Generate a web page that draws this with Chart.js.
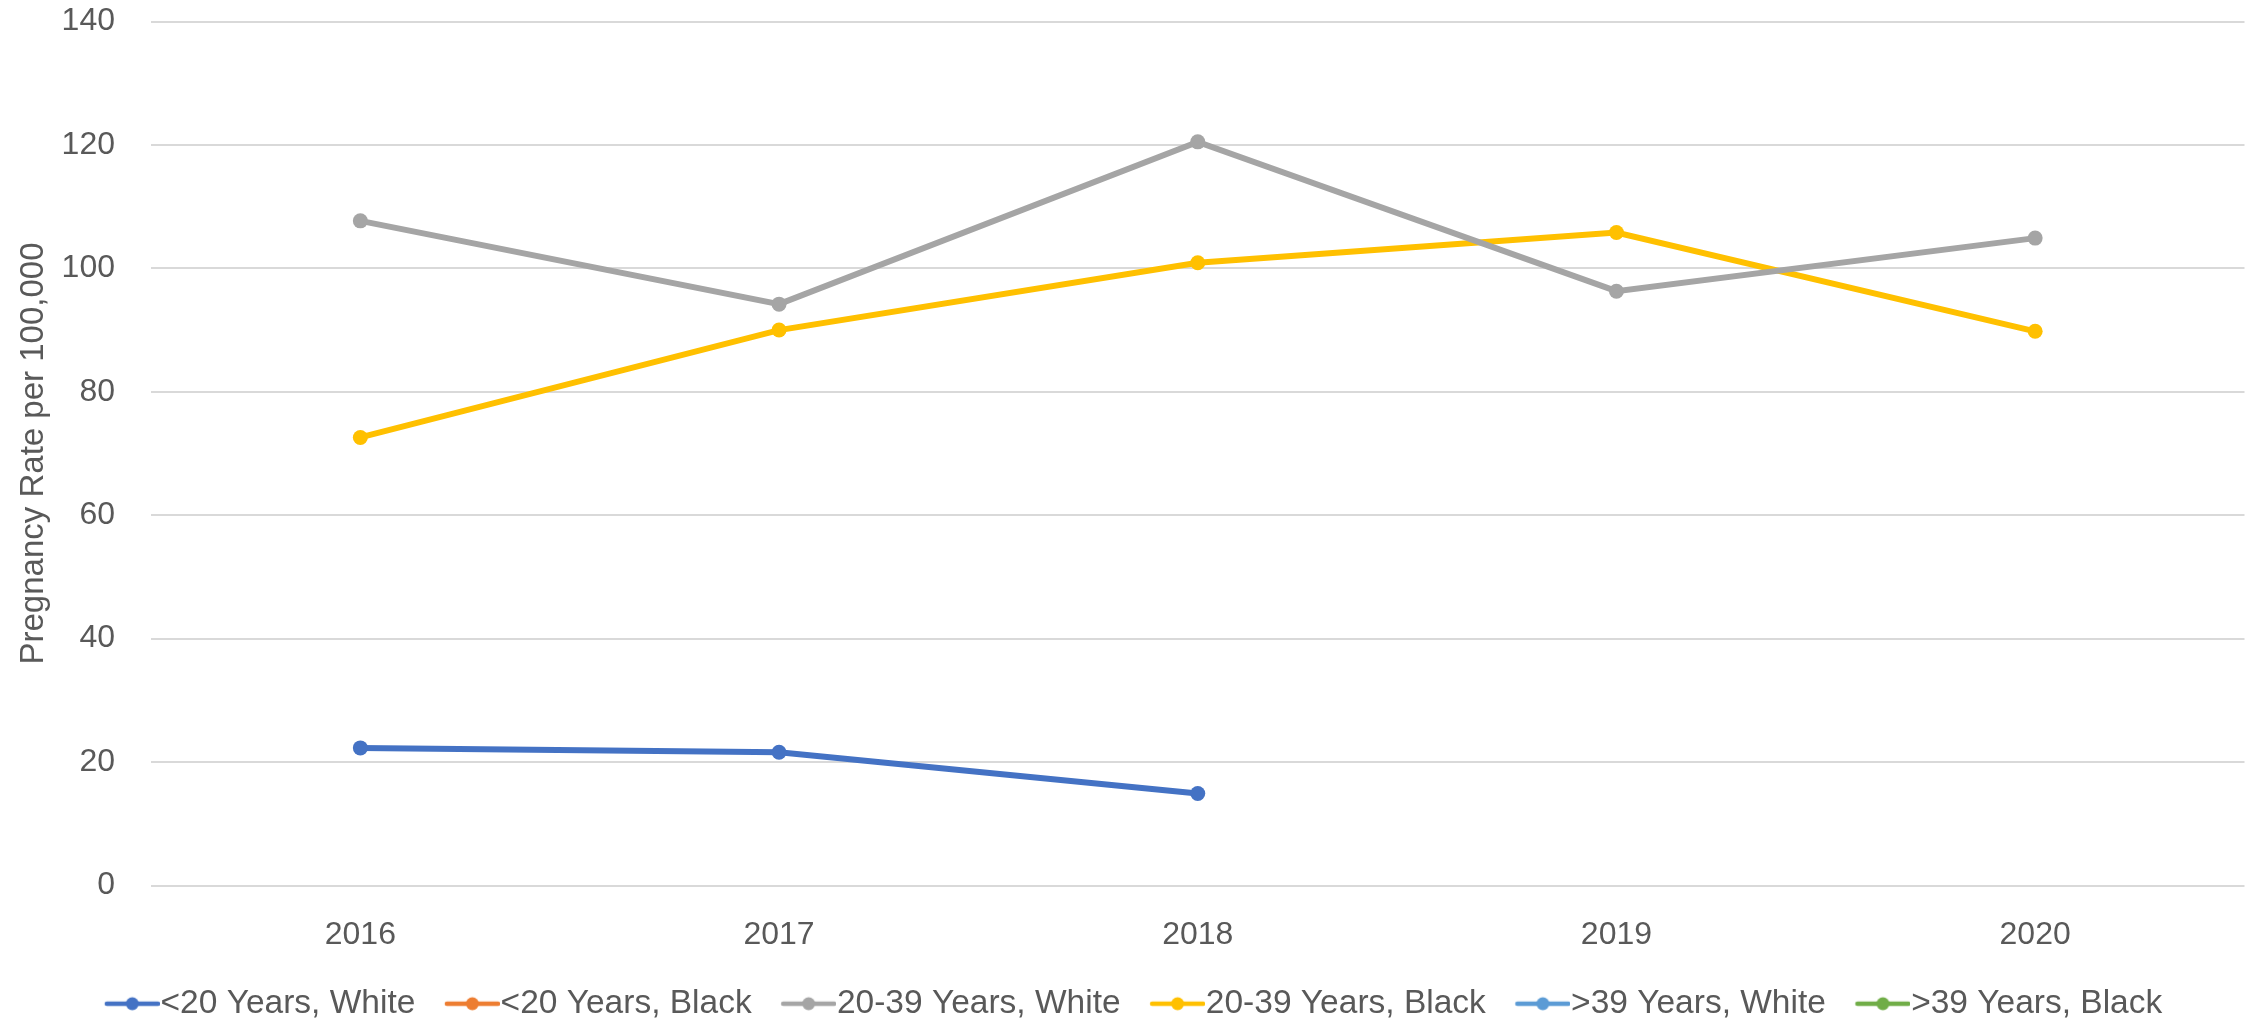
<!DOCTYPE html>
<html>
<head>
<meta charset="utf-8">
<script src="https://cdn.jsdelivr.net/npm/chart.js@4.4.0/dist/chart.umd.min.js"></script>
<style>
  html, body { margin: 0; padding: 0; background: #fff; }
  #wrap { width: 2252px; height: 1022px; }
</style>
</head>
<body>
<div id="wrap"><canvas id="pregnancyChart"></canvas></div>
<script>
// datos
const years = ["2016", "2017", "2018", "2019", "2020"];
const under20White = [22.3, 21.6, 14.9, null, null];
const under20Black = [null, null, null, null, null];
const age20to39White = [107.7, 94.2, 120.5, 96.3, 104.9];
const age20to39Black = [72.6, 90.0, 100.9, 105.8, 89.8];
const over39White = [null, null, null, null, null];
const over39Black = [null, null, null, null, null];
const yTicks = [0, 20, 40, 60, 80, 100, 120, 140];

const seriesNames = [
  "<20 Years, White",
  "<20 Years, Black",
  "20-39 Years, White",
  "20-39 Years, Black",
  ">39 Years, White",
  ">39 Years, Black",
];
const seriesData = [under20White, under20Black, age20to39White, age20to39Black, over39White, over39Black];
const seriesColors = ["#4472C4", "#ED7D31", "#A5A5A5", "#FFC000", "#5B9BD5", "#70AD47"];

const fontFamily = "'Liberation Sans', Arial, sans-serif";
const textColor = "#595959";

// marcador de leyenda: línea con punto, pegado a la derecha del lienzo
function legendMarker(color) {
  const c = document.createElement("canvas");
  c.width = 88;
  c.height = 16;
  const g = c.getContext("2d");
  const x0 = c.width - 55;
  g.strokeStyle = color;
  g.lineWidth = 4.5;
  g.lineCap = "round";
  g.beginPath();
  g.moveTo(x0 + 2, 8);
  g.lineTo(c.width - 2, 8);
  g.stroke();
  g.fillStyle = color;
  g.beginPath();
  g.arc(x0 + 27.5, 8, 6.5, 0, Math.PI * 2);
  g.fill();
  return c;
}
const markers = seriesColors.map(legendMarker);

const ctx = document.getElementById("pregnancyChart").getContext("2d");
new Chart(ctx, {
  type: "line",
  data: {
    labels: years,
    datasets: seriesNames.map((name, i) => ({
      label: name,
      data: seriesData[i],
      borderColor: seriesColors[i],
      backgroundColor: seriesColors[i],
      borderWidth: 6,
      pointRadius: 7.5,
      pointHoverRadius: 7.5,
      pointBorderWidth: 0,
      tension: 0,
      spanGaps: false,
    })),
  },
  options: {
    responsive: true,
    maintainAspectRatio: false,
    animation: false,
    layout: { padding: { top: 0, right: 2, left: 0, bottom: -8.5 } },
    scales: {
      x: {
        offset: true,
        grid: { display: false, drawTicks: false },
        border: { display: false },
        ticks: { color: textColor, font: { family: fontFamily, size: 32 }, padding: 30 },
        afterFit: (scale) => {
          scale.height = 89;
        },
      },
      y: {
        min: 0,
        max: 140,
        afterBuildTicks: (scale) => {
          scale.ticks = yTicks.map((v) => ({ value: v }));
        },
        grid: { color: "#D9D9D9", lineWidth: 2, drawTicks: false },
        border: { display: false },
        ticks: { color: textColor, font: { family: fontFamily, size: 32 }, padding: 36 },
        title: {
          display: true,
          text: "Pregnancy Rate per 100,000",
          color: textColor,
          font: { family: fontFamily, size: 33 },
          padding: { top: 14, bottom: 4 },
        },
        afterFit: (scale) => {
          scale.width = 151;
          scale.paddingTop = 21.5;
          scale.paddingBottom = 0;
        },
      },
    },
    plugins: {
      legend: {
        position: "bottom",
        labels: {
          color: textColor,
          font: { family: fontFamily, size: 33.5 },
          usePointStyle: true,
          pointStyleWidth: 56,
          padding: 12.5,
          generateLabels: (chart) => {
            const items = Chart.defaults.plugins.legend.labels.generateLabels(chart);
            items.forEach((item) => {
              item.pointStyle = markers[item.datasetIndex];
            });
            return items;
          },
        },
      },
      tooltip: { enabled: false },
    },
  },
});
</script>
</body>
</html>
